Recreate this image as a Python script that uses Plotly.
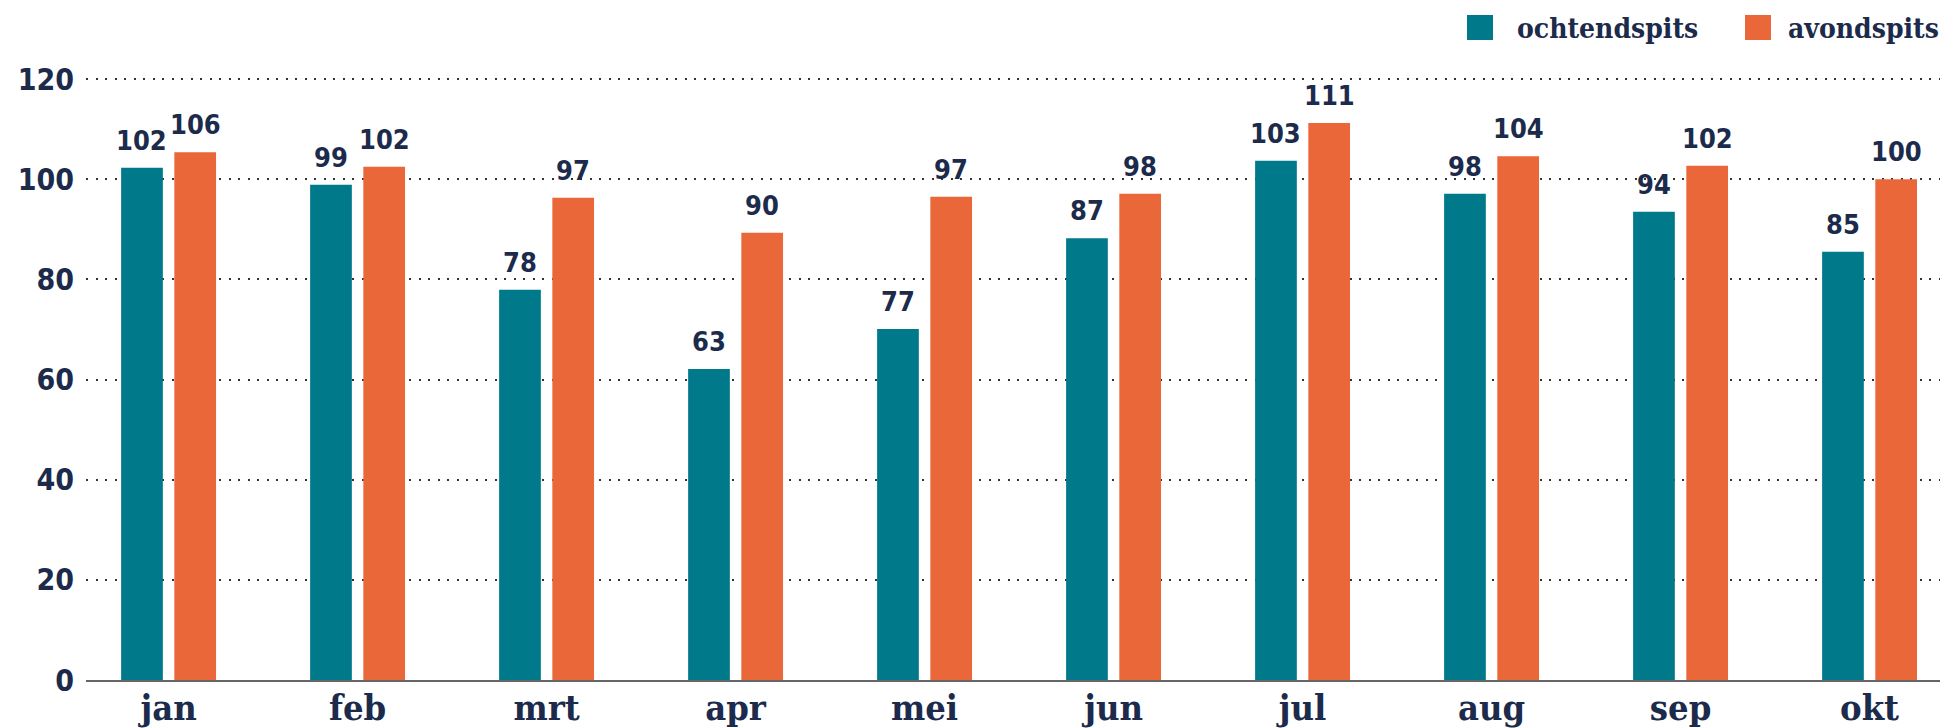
import plotly.graph_objects as go

months = ["jan", "feb", "mrt", "apr", "mei", "jun", "jul", "aug", "sep", "okt"]
ochtend = [102.3, 98.9, 77.9, 62.1, 70.1, 88.2, 103.7, 97.1, 93.5, 85.5]
avond = [105.4, 102.5, 96.3, 89.3, 96.5, 97.1, 111.2, 104.6, 102.7, 100.0]
ochtend_labels = ["102", "99", "78", "63", "77", "87", "103", "98", "94", "85"]
avond_labels = ["106", "102", "97", "90", "97", "98", "111", "104", "102", "100"]
series_names = ["ochtendspits", "avondspits"]
y_ticks = [0, 20, 40, 60, 80, 100, 120]

TEAL = "#00798A"
ORANGE = "#EA673A"
NAVY = "#1C2B4B"
NUM_FONT = "DejaVu Sans Condensed, DejaVu Sans, sans-serif"
SERIF = "DejaVu Serif Condensed, DejaVu Serif, serif"

# the page body has an 8px margin, so the figure is drawn 8px in from the top-left
OFF = 8
W, H = 1948 - OFF, 728 - OFF
ML, MR, MT, MB = 86 - OFF, 0, 74 - OFF, 48
BARGAP, GROUPGAP = 0.437, 0.216

fig = go.Figure()
fig.add_trace(go.Bar(x=months, y=ochtend, name=series_names[0], marker_color=TEAL,
                     marker_line_width=0, showlegend=False))
fig.add_trace(go.Bar(x=months, y=avond, name=series_names[1], marker_color=ORANGE,
                     marker_line_width=0, showlegend=False))

off = (1 - BARGAP) / 4
for i in range(len(months)):
    for vals, labs, sign in ((ochtend, ochtend_labels, -1), (avond, avond_labels, 1)):
        fig.add_annotation(x=i + sign * off, y=vals[i], xref="x", yref="y", text=labs[i],
                           showarrow=False, yanchor="bottom", yshift=10,
                           font=dict(family=NUM_FONT, size=27, color=NAVY, weight="bold"))

# manual legend (positions in page pixels)
pw = W - ML - MR
ph = H - MT - MB
def px(x):
    return (x - OFF - ML) / pw
def py(y):
    return (H - MB - (y - OFF)) / ph
for sx, tx, col, name in ((1467, 1515, TEAL, series_names[0]),
                          (1745, 1786, ORANGE, series_names[1])):
    fig.add_shape(type="rect", xref="paper", yref="paper", x0=px(sx), x1=px(sx + 26),
                  y0=py(40), y1=py(15), fillcolor=col, line_width=0)
    fig.add_annotation(xref="paper", yref="paper", x=px(tx), y=py(28), text=name,
                       showarrow=False, xanchor="left", yanchor="middle",
                       font=dict(family=SERIF, size=28, color=NAVY, weight="bold"))

fig.update_layout(
    width=W, height=H,
    margin=dict(l=ML, r=MR, t=MT, b=MB, pad=0),
    plot_bgcolor="white", paper_bgcolor="white",
    barmode="group", bargap=BARGAP, bargroupgap=GROUPGAP,
    showlegend=False,
    xaxis=dict(range=[-0.437, 9.415], showgrid=False, showline=True, linecolor="#666666",
               linewidth=2, ticks="", automargin=False, ticklabelstandoff=-5,
               tickfont=dict(family=SERIF, size=36, color=NAVY, weight="bold")),
    yaxis=dict(range=[0, 121], tickvals=y_ticks, showgrid=True, gridcolor="#333333",
               gridwidth=1.5, griddash="2px,7.5px", zeroline=False, showline=False, ticks="",
               automargin=False, ticklabelstandoff=11,
               tickfont=dict(family=NUM_FONT, size=30, color=NAVY, weight="bold")),
)

fig.write_html("out.html")
